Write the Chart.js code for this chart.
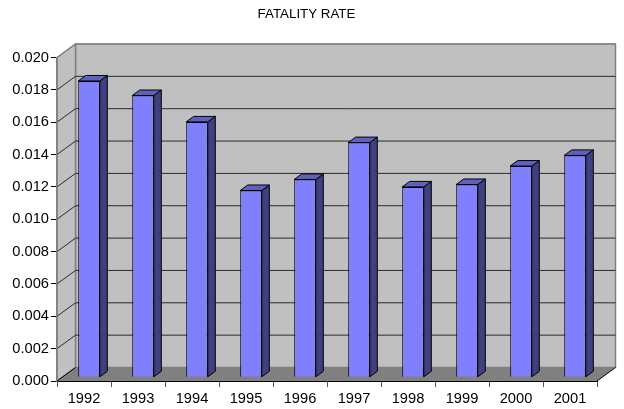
<!DOCTYPE html>
<html><head><meta charset="utf-8">
<style>html,body{margin:0;padding:0;background:#fff}#w{width:624px;height:409px}</style>
<script src="https://cdn.jsdelivr.net/npm/chart.js@4/dist/chart.umd.min.js"></script>
</head><body><div id="w"><canvas id="c" width="624" height="409"></canvas></div>
<script>
const years = ['1992','1993','1994','1995','1996','1997','1998','1999','2000','2001'];
const fatalityRate = [0.01832,0.01742,0.01579,0.01155,0.01223,0.01451,0.01177,0.01192,0.01306,0.01372];
const chartTitle = 'FATALITY RATE';

const DX = 18.5, DY = 13.5;      // wall depth
const BX = 5, BY = 3.7;          // bar front-face offset into the depth
const SX = 7.5, SY = 5.5;        // bar side depth
const FONT = '"Liberation Sans", Arial, sans-serif';

function poly(ctx, pts, fill, stroke, lw) {
  ctx.beginPath();
  pts.forEach((p, i) => i ? ctx.lineTo(p[0], p[1]) : ctx.moveTo(p[0], p[1]));
  ctx.closePath();
  if (fill) { ctx.fillStyle = fill; ctx.fill(); }
  if (stroke) { ctx.strokeStyle = stroke; ctx.lineWidth = lw || 1; ctx.stroke(); }
}

const box3d = {
  id: 'box3d',
  afterLayout(chart) {
    chart.titleBlock.left += 8;
    chart.titleBlock.right += 8;
  },
  beforeDraw(chart) {
    const { ctx, chartArea: a, scales: { y } } = chart;
    ctx.save();
    poly(ctx, [[a.left+DX,a.top-DY],[a.right+DX,a.top-DY],[a.right+DX,a.bottom-DY],[a.left+DX,a.bottom-DY]], '#c0c0c0', '#808080', 1.5);
    poly(ctx, [[a.left,a.top],[a.left+DX,a.top-DY],[a.left+DX,a.bottom-DY],[a.left,a.bottom]], '#c0c0c0', '#808080', 1.5);
    poly(ctx, [[a.left,a.bottom],[a.right,a.bottom],[a.right+DX,a.bottom-DY],[a.left+DX,a.bottom-DY]], '#808080', null);
    ctx.lineWidth = 1;
    y.ticks.forEach(t => {
      const py = y.getPixelForValue(t.value);
      if (t.value > 0) {
        ctx.strokeStyle = t.value >= 0.02 ? '#808080' : '#2a2a2a';
        ctx.beginPath();
        ctx.moveTo(a.left, py);
        ctx.lineTo(a.left+DX, py-DY);
        ctx.lineTo(a.right+DX, py-DY);
        ctx.stroke();
      }
    });
    ctx.strokeStyle = '#000';
    ctx.beginPath();
    ctx.moveTo(a.left, a.bottom); ctx.lineTo(a.left+DX, a.bottom-DY);
    ctx.moveTo(a.right, a.bottom); ctx.lineTo(a.right+DX, a.bottom-DY);
    ctx.stroke();
    ctx.restore();
  },
  beforeDatasetDraw(chart, args) {
    const { ctx } = chart;
    ctx.save();
    ctx.translate(BX, -BY);
    ctx.lineJoin = 'miter';
    args.meta.data.forEach(b => {
      const l = b.x - b.width/2, r = b.x + b.width/2, t = b.y, bt = b.base;
      poly(ctx, [[r,t],[r+SX,t-SY],[r+SX,bt-SY],[r,bt]], '#404080', '#000', 1);
      poly(ctx, [[l,t],[l+SX,t-SY],[r+SX,t-SY],[r,t]], '#6060c0', '#000', 1);
    });
  },
  afterDatasetDraw(chart) { chart.ctx.restore(); }
};

new Chart(document.getElementById('c'), {
  type: 'bar',
  plugins: [box3d],
  data: {
    labels: years,
    datasets: [{
      label: chartTitle,
      data: fatalityRate,
      backgroundColor: '#8080ff',
      borderColor: '#000',
      borderWidth: 1,
      categoryPercentage: 1,
      barPercentage: 0.4
    }]
  },
  options: {
    responsive: false,
    animation: false,
    layout: { padding: { left: 0, right: 27, top: 0, bottom: 0 } },
    plugins: {
      legend: { display: false },
      tooltip: { enabled: false },
      title: {
        display: true,
        text: chartTitle,
        color: '#000',
        font: { family: FONT, size: 13.33, weight: 'normal' },
        padding: { top: 6.5, bottom: 35 }
      }
    },
    scales: {
      x: {
        offset: true,
        grid: { offset: true, drawOnChartArea: false, drawTicks: true, tickLength: 6, color: '#555', tickColor: '#555' },
        border: { display: true, color: '#000', width: 1 },
        ticks: { color: '#000', font: { family: FONT, size: 14.67 }, padding: 3, maxRotation: 0, autoSkip: false },
        afterFit(s) { s.height = 28; }
      },
      y: {
        min: 0, max: 0.02,
        grid: { drawOnChartArea: false, drawTicks: true, tickLength: 6, color: '#000', tickColor: '#000' },
        border: { display: true, color: '#808080', width: 1.5 },
        ticks: { stepSize: 0.002, color: '#000', font: { family: FONT, size: 14.67 }, padding: 2,
                 callback: v => Number(v).toFixed(3) },
        afterFit(s) { s.width = 57; }
      }
    }
  }
});
</script></body></html>
